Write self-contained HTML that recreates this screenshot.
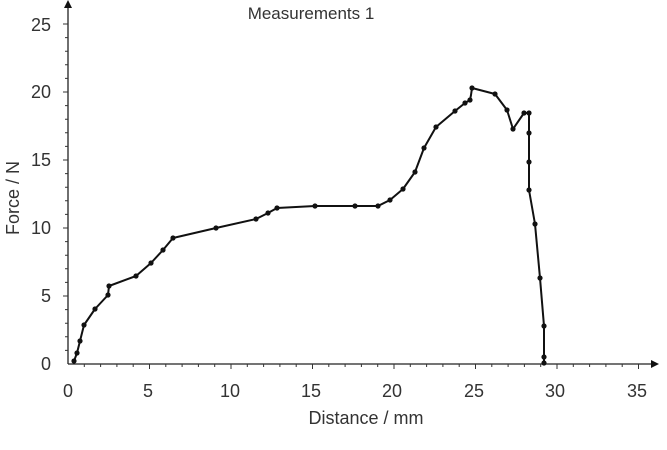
<!DOCTYPE html>
<html><head><style>body{margin:0;background:#fff}svg{display:block}text{font-family:"Liberation Sans",sans-serif;fill:#333}</style></head><body>
<svg width="667" height="450" xmlns="http://www.w3.org/2000/svg">
<g stroke="#222" stroke-width="1.3" fill="none">
<line x1="68" y1="364" x2="68" y2="6"/>
<line x1="68" y1="364" x2="652" y2="364"/>
</g>
<polygon points="68,0 64,8 72,8" fill="#111"/>
<polygon points="659,364 651,360 651,368" fill="#111"/>
<path stroke="#333" stroke-width="1" fill="none" d="M84.3,364v3M100.6,364v3M116.9,364v3M133.2,364v3M149.5,364v5M165.8,364v3M182.1,364v3M198.4,364v3M214.7,364v3M231,364v5M247.3,364v3M263.6,364v3M279.9,364v3M296.2,364v3M312.5,364v5M328.8,364v3M345.1,364v3M361.4,364v3M377.7,364v3M394,364v5M410.3,364v3M426.6,364v3M442.9,364v3M459.2,364v3M475.5,364v5M491.8,364v3M508.1,364v3M524.4,364v3M540.7,364v3M557,364v5M573.3,364v3M589.6,364v3M605.9,364v3M622.2,364v3M638.5,364v5
M65,350.4h3M65,336.8h3M65,323.2h3M65,309.6h3M63,296h5M65,282.4h3M65,268.8h3M65,255.2h3M65,241.6h3M63,228h5M65,214.4h3M65,200.8h3M65,187.2h3M65,173.6h3M63,160h5M65,146.4h3M65,132.8h3M65,119.2h3M65,105.6h3M63,92h5M65,78.4h3M65,64.8h3M65,51.2h3M65,37.6h3M63,24h5"/>
<g font-size="18" text-anchor="end">
<text x="51" y="370">0</text><text x="51" y="302">5</text><text x="51" y="234">10</text><text x="51" y="166">15</text><text x="51" y="98">20</text><text x="51" y="31">25</text>
</g>
<g font-size="18" text-anchor="middle">
<text x="68" y="397">0</text><text x="148" y="397">5</text><text x="230" y="397">10</text><text x="311" y="397">15</text><text x="392" y="397">20</text><text x="474" y="397">25</text><text x="555" y="397">30</text><text x="637" y="397">35</text>
<text x="366" y="424">Distance / mm</text>
<text x="311" y="19" font-size="17">Measurements 1</text>
<text transform="translate(19,198) rotate(-90)">Force / N</text>
</g>
<polyline fill="none" stroke="#111" stroke-width="2" stroke-linejoin="round" points="74,361 77,353 80,341 84,325 95,309 108,295 109,286 136,276 151,263 163,250 173,238 216,228 256,219 268,213 277,208 315,206 355,206 378,206 390,200 403,189 415,172 424,148 436,127 455,111 465,103 470,100 471,95 472,88 495,94 507,110 513,129 524,113 529,113 529,133 529,162 529,190 535,224 540,278 544,326 544,357 544,363"/>
<g fill="#111">
<circle cx="74" cy="361" r="2.6"/><circle cx="77" cy="353" r="2.6"/><circle cx="80" cy="341" r="2.6"/><circle cx="84" cy="325" r="2.6"/><circle cx="95" cy="309" r="2.6"/><circle cx="108" cy="295" r="2.6"/><circle cx="109" cy="286" r="2.6"/><circle cx="136" cy="276" r="2.6"/><circle cx="151" cy="263" r="2.6"/><circle cx="163" cy="250" r="2.6"/><circle cx="173" cy="238" r="2.6"/><circle cx="216" cy="228" r="2.6"/><circle cx="256" cy="219" r="2.6"/><circle cx="268" cy="213" r="2.6"/><circle cx="277" cy="208" r="2.6"/><circle cx="315" cy="206" r="2.6"/><circle cx="355" cy="206" r="2.6"/><circle cx="378" cy="206" r="2.6"/><circle cx="390" cy="200" r="2.6"/><circle cx="403" cy="189" r="2.6"/><circle cx="415" cy="172" r="2.6"/><circle cx="424" cy="148" r="2.6"/><circle cx="436" cy="127" r="2.6"/><circle cx="455" cy="111" r="2.6"/><circle cx="465" cy="103" r="2.6"/><circle cx="470" cy="100" r="2.6"/><circle cx="472" cy="88" r="2.6"/><circle cx="495" cy="94" r="2.6"/><circle cx="507" cy="110" r="2.6"/><circle cx="513" cy="129" r="2.6"/><circle cx="524" cy="113" r="2.6"/><circle cx="529" cy="113" r="2.6"/><circle cx="529" cy="133" r="2.6"/><circle cx="529" cy="162" r="2.6"/><circle cx="529" cy="190" r="2.6"/><circle cx="535" cy="224" r="2.6"/><circle cx="540" cy="278" r="2.6"/><circle cx="544" cy="326" r="2.6"/><circle cx="544" cy="357" r="2.6"/><circle cx="544" cy="363" r="2.6"/>
</g>
</svg>
</body></html>
